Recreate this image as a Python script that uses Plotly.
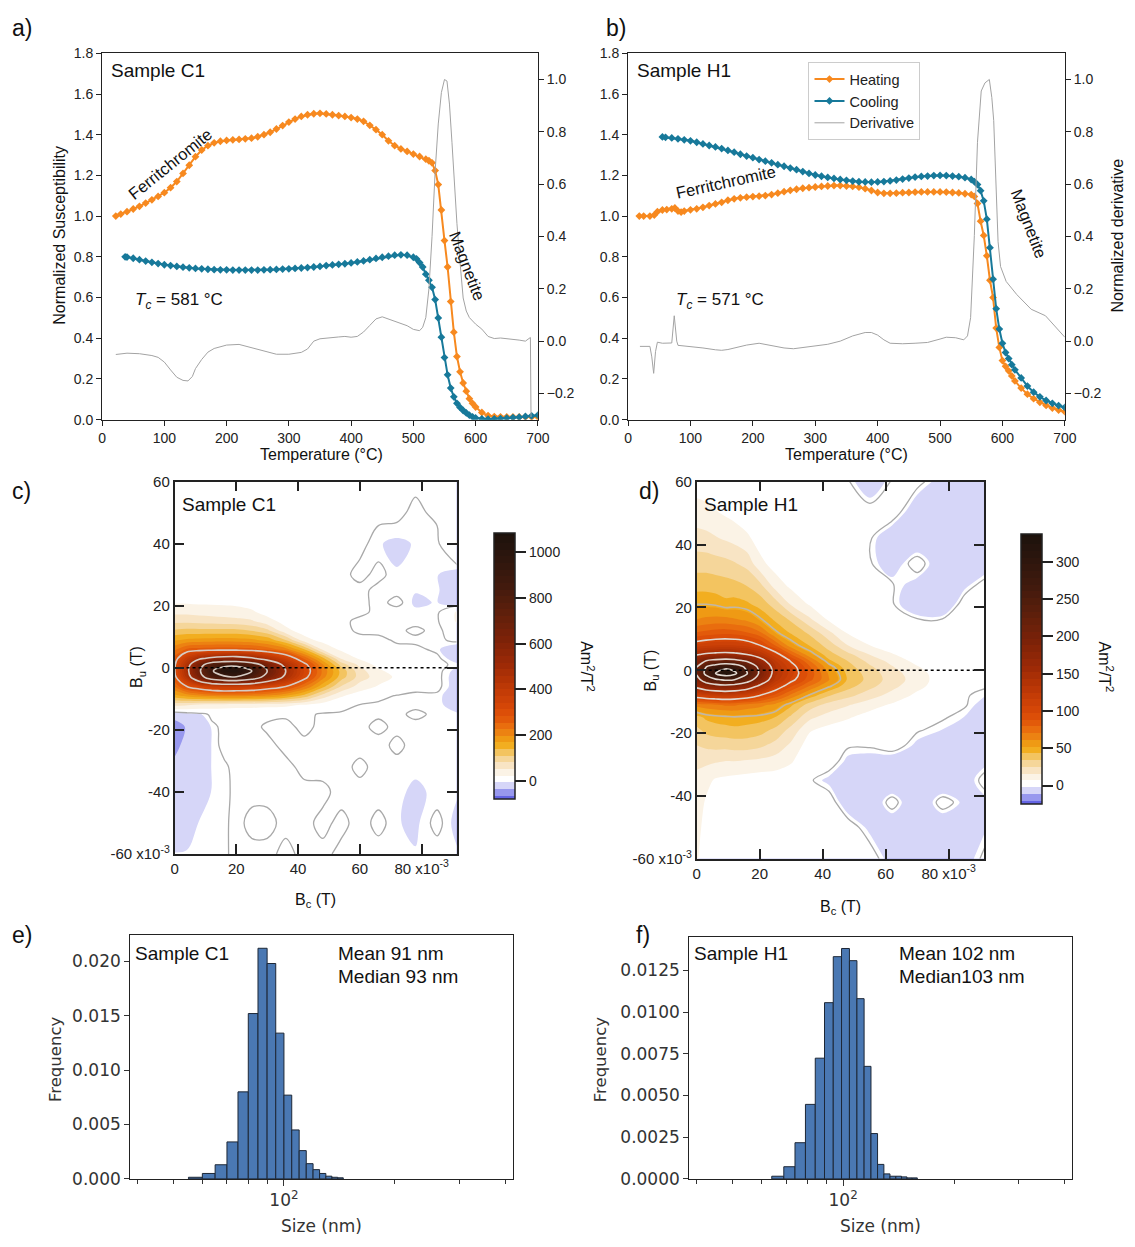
import numpy as np
import plotly.graph_objects as go

W, H = 1135, 1247

# ---------------- susceptibility vs temperature: sample C1 ----------------
c1_heat_T = [22, 30, 40, 50, 60, 70, 80, 90, 100, 110, 120, 130, 140, 150, 160, 170, 180, 190,
             200, 210, 220, 230, 240, 250, 260, 270, 280, 290, 300, 310, 320, 330, 340, 350, 360,
             370, 380, 390, 400, 410, 420, 430, 440, 450, 460, 470, 480, 490, 500, 510, 520, 525,
             530, 535, 540, 545, 550, 555, 560, 565, 570, 575, 580, 585, 590, 595, 600, 610, 620,
             630, 640, 650, 660, 670, 680, 690, 700]
c1_heat_k = [1.000, 1.010, 1.022, 1.035, 1.048, 1.064, 1.080, 1.097, 1.115, 1.140, 1.170, 1.210, 1.250, 1.292, 1.325, 1.346, 1.360, 1.368,
             1.372, 1.375, 1.377, 1.380, 1.383, 1.390, 1.400, 1.412, 1.428, 1.445, 1.462, 1.477, 1.490, 1.498, 1.503, 1.505, 1.502,
             1.498, 1.494, 1.490, 1.484, 1.477, 1.466, 1.446, 1.425, 1.400, 1.370, 1.346, 1.330, 1.318, 1.305, 1.293, 1.280, 1.272,
             1.262, 1.224, 1.155, 1.030, 0.880, 0.750, 0.580, 0.430, 0.310, 0.235, 0.180, 0.140, 0.103, 0.080, 0.062, 0.035, 0.020,
             0.015, 0.014, 0.013, 0.013, 0.013, 0.013, 0.013, 0.013]

c1_cool_T = [37, 40, 50, 60, 70, 80, 90, 100, 110, 120, 130, 140, 150, 160, 170, 180, 190, 200,
             210, 220, 230, 240, 250, 260, 270, 280, 290, 300, 310, 320, 330, 340, 350, 360, 370,
             380, 390, 400, 410, 420, 430, 440, 450, 460, 470, 480, 490, 500, 505, 510, 515, 520,
             525, 530, 535, 540, 545, 550, 555, 560, 565, 570, 575, 580, 585, 590, 595, 600, 610,
             620, 630, 640, 650, 660, 670, 680, 690, 700]
c1_cool_k = [0.800, 0.799, 0.793, 0.786, 0.779, 0.773, 0.767, 0.761, 0.757, 0.753, 0.749, 0.746, 0.743, 0.741, 0.739, 0.737, 0.736, 0.736,
             0.735, 0.735, 0.735, 0.735, 0.735, 0.736, 0.737, 0.738, 0.740, 0.741, 0.743, 0.745, 0.747, 0.750, 0.753, 0.757, 0.760,
             0.763, 0.766, 0.770, 0.775, 0.780, 0.786, 0.792, 0.798, 0.803, 0.808, 0.810, 0.808, 0.798, 0.790, 0.772, 0.750, 0.715,
             0.685, 0.650, 0.590, 0.500, 0.405, 0.305, 0.220, 0.155, 0.112, 0.080, 0.060, 0.045, 0.033, 0.022, 0.014, 0.008, 0.004,
             0.003, 0.004, 0.005, 0.007, 0.010, 0.012, 0.016, 0.019, 0.022]

c1_deriv_T = [22, 40, 60, 80, 90, 100, 110, 120, 130, 138, 145, 150, 160, 170, 180, 190, 200, 220, 240, 260,
              280, 300, 320, 330, 340, 350, 360, 370, 380, 390, 400, 410, 420, 430, 440, 450, 460, 470, 480, 490,
              500, 510, 515, 520, 525, 530, 535, 540, 545, 550, 554, 558, 562, 566, 570, 575, 580, 585, 590, 600,
              610, 620, 630, 640, 650, 660, 670, 680, 685, 688, 689]
c1_deriv = [-0.051, -0.046, -0.048, -0.055, -0.062, -0.080, -0.110, -0.138, -0.150, -0.152,
            -0.135, -0.105, -0.070, -0.042, -0.028, -0.020, -0.015, -0.0125, -0.025, -0.040,
            -0.050, -0.050, -0.043, -0.030, 0.000, 0.009, 0.012, 0.015, 0.016, 0.018,
            0.015, 0.018, 0.035, 0.060, 0.085, 0.093, 0.085, 0.075, 0.068, 0.059,
            0.045, 0.040, 0.053, 0.090, 0.200, 0.400, 0.650, 0.830, 0.950, 1.000,
            0.994, 0.906, 0.760, 0.600, 0.450, 0.300, 0.165, 0.115, 0.090, 0.065,
            0.046, 0.018, 0.010, 0.012, 0.010, 0.008, 0.004, 0.000, 0.010, 0.014, -0.290]

# ---------------- susceptibility vs temperature: sample H1 ----------------
h1_heat_T = [18, 25, 35, 42, 47, 55, 62, 70, 75, 80, 85, 90,
             100, 110, 120, 130, 140, 150, 160, 170, 180, 190, 200, 210, 220, 230, 240, 250, 260, 270,
             280, 290, 300, 310, 320, 330, 340, 350, 360, 370, 380, 390, 400, 410, 420, 430, 440, 450,
             460, 470, 480, 490, 500, 510, 520, 530, 540, 550,
             555, 560, 565, 570, 575, 580, 585, 590, 595, 600, 605, 610, 615, 620,
             630, 640, 650, 660, 670, 680, 690, 700]
h1_heat_k = [1.000, 1.000, 1.000, 1.005, 1.022, 1.030, 1.032, 1.036, 1.040, 1.025, 1.020, 1.025,
             1.031, 1.036, 1.043, 1.052, 1.060, 1.068, 1.078, 1.085, 1.090, 1.093, 1.096, 1.098, 1.101, 1.106, 1.113, 1.120, 1.127, 1.132,
             1.137, 1.140, 1.143, 1.146, 1.148, 1.150, 1.150, 1.148, 1.146, 1.142, 1.135, 1.126, 1.116, 1.112, 1.112, 1.113, 1.115, 1.116,
             1.118, 1.119, 1.119, 1.119, 1.119, 1.118, 1.116, 1.114, 1.110, 1.106,
             1.097, 1.062, 0.975, 0.905, 0.805, 0.685, 0.600, 0.450, 0.355, 0.290, 0.262, 0.240, 0.215, 0.190,
             0.155, 0.125, 0.103, 0.085, 0.070, 0.057, 0.047, 0.039]

h1_cool_T = [55, 60, 70, 80, 90, 100, 110, 120, 130, 140, 150, 160, 170, 180, 190, 200, 210, 220, 230, 240,
             250, 260, 270, 280, 290, 300, 310, 320, 330, 340, 350, 360, 370, 380, 390, 400, 410, 420, 430,
             440, 450, 460, 470, 480, 490, 500, 510, 520, 530, 540, 550,
             555, 560, 565, 570, 575, 580, 585, 590, 595, 600, 605, 610, 615, 620,
             630, 640, 650, 660, 670, 680, 690, 700]
h1_cool_k = [1.389, 1.387, 1.384, 1.380, 1.375, 1.370, 1.363, 1.355, 1.347, 1.340, 1.332, 1.323, 1.314, 1.304, 1.295, 1.287, 1.278, 1.270, 1.262, 1.253,
             1.245, 1.236, 1.228, 1.219, 1.210, 1.202, 1.196, 1.190, 1.185, 1.180, 1.176, 1.172, 1.169, 1.168, 1.167, 1.168, 1.170, 1.173, 1.177,
             1.182, 1.187, 1.192, 1.195, 1.197, 1.199, 1.200, 1.199, 1.197, 1.194, 1.189, 1.180,
             1.170, 1.155, 1.125, 1.075, 0.985, 0.845, 0.690, 0.545, 0.445, 0.375, 0.330, 0.300, 0.270, 0.245,
             0.205, 0.165, 0.135, 0.112, 0.094, 0.080, 0.069, 0.060]

h1_deriv_T = [19, 35, 38, 41, 44, 47, 55, 65, 70, 74, 78, 80, 90, 100, 120, 140, 150, 160, 175, 190,
              210, 230, 250, 265, 280, 300, 320, 340, 360, 380, 390, 400, 410, 420, 440, 460, 480, 500, 510, 525,
              538, 544, 549, 555, 560, 566, 572, 579, 583, 586, 589, 593, 597, 606, 623, 646, 669, 686, 700]
h1_deriv = [-0.020, -0.020, -0.060, -0.123, -0.040, -0.004, -0.008, -0.008, -0.007, 0.097,
            0.000, -0.016, -0.018, -0.020, -0.026, -0.033, -0.035, -0.032, -0.023, -0.015,
            -0.008, -0.018, -0.026, -0.029, -0.025, -0.019, -0.012, 0.000, 0.020, 0.033,
            0.033, 0.023, 0.005, -0.008, -0.010, -0.008, -0.005, 0.008, 0.015, 0.013,
            0.005, 0.020, 0.090, 0.404, 0.760, 0.956, 0.987, 1.000, 0.931, 0.843,
            0.655, 0.380, 0.285, 0.228, 0.178, 0.122, 0.097, 0.053, 0.015]

# ---------------- FORC distributions (Am^2/T^2), columns over Bc, rows over Bu (mT) ----------------
c1_bc = [0, 4, 8, 12, 16, 20, 25, 30, 36, 42, 48, 54, 60, 66, 72, 78, 85, 92]
c1_bu = [-60, -50, -40, -32, -25, -19, -15, -12, -9, -6, -3, -1, 1, 3, 6, 9, 12, 15, 18, 21, 25, 30, 40, 50, 60]
c1_forc_cols = [
    [-4, -15, -20, -28, -40, -50, -20, 60, 160, 230, 280, 295, 290, 270, 220, 165, 115, 75, 45, 22, 3, 2, 2, 2, 2],
    [-4, -8, -15, -22, -26, -30, -12, 55, 180, 300, 440, 470, 450, 390, 260, 175, 120, 75, 45, 22, 3, 2, 2, 2, 2],
    [-3, -4, -14, -18, -22, -22, -6, 45, 195, 340, 630, 680, 640, 480, 268, 178, 120, 72, 42, 20, 3, 2, 2, 2, 2],
    [-2, -3, -4, -4, -4, -3, 2, 40, 205, 370, 800, 880, 790, 530, 270, 180, 120, 70, 40, 20, 4, 2, 2, 2, 2],
    [-2, -2, -3, -2, 2, 2, 3, 38, 210, 385, 870, 1020, 840, 555, 272, 182, 120, 68, 36, 20, 4, 2, 2, 2, 2],
    [2, 2, 2, 2, 2, 2, 3, 35, 210, 380, 890, 1040, 850, 560, 270, 180, 120, 65, 32, 20, 5, 2, 2, 2, 2],
    [2, -3, 2, 2, 2, 2, 2, 35, 205, 370, 800, 900, 780, 520, 265, 175, 110, 58, 28, 15, 2, 2, 2, 2, 2],
    [2, -3, 2, 2, 2, -2, 2, 32, 195, 340, 640, 700, 640, 450, 245, 160, 90, 35, 15, 5, 2, 2, 2, 2, 2],
    [-3, 2, 2, 2, -3, -3, 1, 30, 170, 300, 470, 500, 460, 360, 210, 110, 32, 15, 5, 2, 2, 2, 2, 2, 2],
    [2, 2, 2, -3, -3, 2, 2, 22, 130, 230, 320, 340, 320, 250, 140, 35, 12, 2, 2, 2, 2, 2, 2, 2, 2],
    [2, -3, 2, -4, -3, -3, -2, 10, 70, 150, 210, 220, 200, 150, 45, 15, 2, 2, 2, 2, 2, 2, 2, 2, 2],
    [-3, 2, -4, -4, -4, -3, -2, 3, 28, 80, 125, 130, 100, 50, 18, 3, 2, 2, 2, 2, 2, 2, 2, 2, 2],
    [-4, -4, -4, 2, -4, -3, -2, -1, 10, 40, 70, 65, 45, 20, 4, 2, -2, -3, 2, 2, 2, -3, 2, 2, 2],
    [-4, 2, -4, -4, -4, 2, -2, -2, 2, 22, 38, 30, 15, 3, 2, 2, -3, -4, -3, -3, -3, 2, -4, 2, 2],
    [-4, -4, -4, -4, 2, -3, -3, -2, -1, 8, 20, 12, 3, 2, 2, -2, -3, -3, -4, 2, -3, -4, -6, 2, 2],
    [-4, -6, -5, -4, -4, -4, 2, -3, -2, 2, 3, 2, 2, 2, 2, -3, 2, -4, -3, -6, -4, -4, -4, -3, 2],
    [-4, 2, -4, -4, -4, -4, -3, -3, -2, 2, 2, 2, 2, 2, -3, -3, -4, -3, -4, -4, -3, -4, -4, 2, 2],
    [-4, -8, -4, -4, -4, -4, -4, -8, -12, -10, -10, -8, -3, -12, -14, 3, 10, 30, 30, -14, -16, -12, 30, 2, 2],
]

h1_bc = [0, 3, 6, 9, 12, 16, 20, 25, 30, 36, 42, 48, 55, 62, 70, 78, 85, 92]
h1_bu = [-60, -50, -42, -35, -29, -24, -19, -15, -11, -8, -5, -3, -1, 1, 3, 5, 8, 12, 16, 21, 27, 34, 42, 50, 60]
h1_forc_cols = [
    [8, 10, 12, 14, 18, 25, 32, 40, 65, 110, 160, 185, 205, 200, 180, 148, 108, 80, 62, 50, 40, 30, 20, 11, 3],
    [3, 4, 6, 10, 18, 27, 37, 45, 68, 115, 175, 225, 262, 250, 200, 155, 112, 82, 64, 50, 40, 30, 19, 10, 2],
    [1, 2, 3, 6, 17, 28, 39, 47, 70, 118, 185, 245, 300, 275, 210, 158, 114, 84, 65, 49, 39, 29, 17, 8, 1],
    [0, 1, 2, 5, 16, 28, 40, 48, 72, 120, 190, 255, 325, 290, 215, 160, 115, 85, 65, 46, 38, 28, 15, 6, 0],
    [0, 0, 1, 4, 16, 29, 41, 49, 72, 118, 185, 250, 310, 280, 212, 158, 114, 84, 63, 47, 37, 26, 13, 4, 0],
    [0, 0, 0, 3, 15, 29, 40, 48, 68, 112, 170, 220, 252, 240, 195, 150, 110, 80, 60, 45, 34, 22, 9, 1, 0],
    [0, 0, 0, 2, 14, 27, 38, 47, 65, 100, 145, 178, 195, 190, 165, 135, 100, 72, 52, 40, 28, 10, 3, 0, 0],
    [0, 0, 0, 2, 12, 22, 32, 43, 58, 85, 112, 130, 137, 135, 125, 108, 78, 52, 42, 30, 12, 3, 0, 0, 0],
    [0, 0, 0, 1, 8, 14, 22, 32, 45, 68, 90, 105, 110, 108, 98, 80, 55, 42, 33, 15, 5, 1, 0, 0, 0],
    [0, 0, 0, 0, 0, 2, 8, 18, 30, 48, 70, 82, 85, 80, 70, 55, 42, 32, 18, 6, 1, 0, 0, 0, 0],
    [0, 0, 2, -3, 2, 0, 4, 12, 22, 35, 52, 62, 60, 55, 45, 38, 30, 18, 6, 1, 0, 0, 0, 0, 0],
    [2, 2, -5, -7, -3, 0, 2, 8, 17, 28, 38, 42, 41, 38, 34, 28, 16, 6, 1, 0, 0, 0, 0, 0, 0],
    [2, -3, -7, -8, -4, 0, 0, 3, 11, 20, 28, 31, 30, 27, 22, 16, 7, 1, 0, 0, 0, 0, 0, 2, -6],
    [-4, -7, 2, -8, -5, 2, 0, 0, 6, 13, 19, 21, 20, 17, 13, 8, 2, 0, 0, 0, 0, -5, -6, 2, 0],
    [-7, -8, -8, -3, -6, -3, 0, 0, 1, 5, 10, 12, 11, 8, 4, 1, 0, 0, 0, -6, -4, 2, -7, -6, 1],
    [-8, -7, 2, -8, -7, -5, -2, 0, 0, 0, 2, 2, 2, 1, 0, 0, 0, 2, 0, -7, -5, -6, -8, -5, -4],
    [-4, -6, -3, -5, -6, -6, -4, -2, 0, 0, 1, 1, 1, 0, 0, 0, 0, 0, 0, 2, -3, -6, -8, -7, -6],
    [1, -2, -3, 2, -3, -4, -5, -4, -4, -2, 0, 0, 0, 0, 0, 0, 0, 0, 0, 2, 2, -5, -7, -8, -7],
]

# ---------------- particle size histograms (nm, density) ----------------
c1_size_edges = [55, 60, 65, 70, 75, 80, 85, 90, 95, 100, 105, 110, 115, 120, 125, 130, 135, 140, 145]
c1_size_freq = [0.00015, 0.0005, 0.0013, 0.0034, 0.0080, 0.0152, 0.0212, 0.0198, 0.0134, 0.0077,
                0.0045, 0.0026, 0.0014, 0.00085, 0.0005, 0.00025, 0.00015, 0.0001]
h1_size_edges = [64, 69, 74, 79, 84, 89, 94, 99, 104, 109, 114, 119, 124, 129, 134, 139, 144, 149, 154, 159]
h1_size_freq = [0.00016, 0.00073, 0.00217, 0.00447, 0.00724, 0.01057, 0.01333, 0.01382, 0.01309, 0.01081,
                0.00675, 0.00272, 0.00087, 0.0003, 0.00016, 0.00016, 0.00012, 0.00006, 0.00006]

# ---------------- styling ----------------
ORANGE = '#f7891f'
TEAL = '#17799a'
DERIV_GREY = '#a3a3a3'
BAR_BLUE = '#4a78b3'
INK = '#222222'
ARIAL = 'Liberation Sans, Arial, sans-serif'
DEJAVU = 'DejaVu Sans, sans-serif'

FORC_SCALE = [
    [0.0, '#6464e4'], [0.025, '#9898ee'], [0.05, '#d6d6f8'], [0.062, '#f4f4fd'],
    [0.075, '#ffffff'], [0.088, '#ffffff'], [0.1, '#fbf3e6'], [0.125, '#f8e4c4'],
    [0.15, '#f5d69a'], [0.175, '#f3c460'], [0.2, '#f2ae20'], [0.225, '#ef9a14'],
    [0.25, '#ec8212'], [0.275, '#e96d0e'], [0.3, '#e25a0a'], [0.325, '#dc4e08'],
    [0.35, '#d44607'], [0.4, '#c43c06'], [0.45, '#b23305'], [0.5, '#9e2a06'],
    [0.6, '#7c2208'], [0.7, '#5e1f0b'], [0.8, '#421a0d'], [0.9, '#2e160d'], [1.0, '#1c120c'],
]


def px(x):
    return x / W


def py(y):
    return 1 - y / H


fig = go.Figure()


def add_thermo(T, k, color, name, xa, ya, show):
    fig.add_trace(go.Scatter(
        x=T, y=k, name=name, mode='lines+markers', xaxis=xa, yaxis=ya,
        line=dict(color=color, width=2),
        marker=dict(symbol='diamond', size=6, color=color, line=dict(width=0)),
        showlegend=show, hoverinfo='skip'))


def add_deriv(T, d, xa, ya, show):
    fig.add_trace(go.Scatter(
        x=T, y=d, name='Derivative', mode='lines', xaxis=xa, yaxis=ya,
        line=dict(color=DERIV_GREY, width=1), showlegend=show, hoverinfo='skip'))


add_thermo(c1_heat_T, c1_heat_k, ORANGE, 'Heating', 'x', 'y', False)
add_thermo(c1_cool_T, c1_cool_k, TEAL, 'Cooling', 'x', 'y', False)
add_deriv(c1_deriv_T, c1_deriv, 'x', 'y2', False)

add_thermo(h1_heat_T, h1_heat_k, ORANGE, 'Heating', 'x2', 'y3', True)
add_thermo(h1_cool_T, h1_cool_k, TEAL, 'Cooling', 'x2', 'y3', True)
add_deriv(h1_deriv_T, h1_deriv, 'x2', 'y4', True)


def add_forc(bc, bu, cols, xa, ya, start, size, cbar, light_levels):
    z = np.array(cols, dtype=float).T
    nlev = 40
    fig.add_trace(go.Contour(
        x=bc, y=bu, z=z, xaxis=xa, yaxis=ya, colorscale=FORC_SCALE, autocontour=False,
        contours=dict(coloring='fill', showlines=False, start=start,
                      end=start + (nlev - 1) * size, size=size),
        line=dict(width=0, smoothing=1.0), colorbar=cbar, hoverinfo='skip', showlegend=False))
    # outline of the zero level
    fig.add_trace(go.Contour(
        x=bc, y=bu, z=z, xaxis=xa, yaxis=ya, showscale=False, autocontour=False,
        contours=dict(coloring='none', start=-0.5, end=0.4, size=1),
        line=dict(color='#a9a9a9', width=1.3, smoothing=1.0), hoverinfo='skip', showlegend=False))
    for lo, hi, step, color in light_levels:
        fig.add_trace(go.Contour(
            x=bc, y=bu, z=z, xaxis=xa, yaxis=ya, showscale=False, autocontour=False,
            contours=dict(coloring='none', start=lo, end=hi, size=step),
            line=dict(color=color, width=1.6, smoothing=1.0), hoverinfo='skip', showlegend=False))
    fig.add_trace(go.Scatter(
        x=[bc[0], bc[-1]], y=[0, 0], mode='lines', xaxis=xa, yaxis=ya,
        line=dict(color='black', width=1.5, dash='dot'), hoverinfo='skip', showlegend=False))


def colorbar(x_left, y_mid, length, ticks):
    return dict(x=px(x_left), xanchor='left', xpad=0, y=py(y_mid), yanchor='middle', ypad=0,
                len=length, lenmode='pixels', thickness=21, thicknessmode='pixels',
                outlinewidth=1.5, outlinecolor=INK, ticks='outside', ticklen=11, tickwidth=1.5,
                tickcolor=INK, tickvals=ticks, tickprefix='\u2002',
                tickfont=dict(family=ARIAL, size=14, color=INK))


add_forc(c1_bc, c1_bu, c1_forc_cols, 'x3', 'y5', -62.5, 29.0,
         colorbar(497, 667, 266, [0, 200, 400, 600, 800, 1000]),
         [(300, 900, 200, '#d6ccc4')])
add_forc(h1_bc, h1_bu, h1_forc_cols, 'x4', 'y6', -20.0, 9.05,
         colorbar(1032, 670, 270, [0, 50, 100, 150, 200, 250, 300]),
         [(50, 50.5, 10, '#c2b6a6'), (100, 300, 50, '#e0d8d0')])


def add_hist(edges, freq, xa, ya):
    le = np.log10(edges)
    centers = (le[:-1] + le[1:]) / 2
    widths = le[1:] - le[:-1]
    fig.add_trace(go.Bar(
        x=centers, y=freq, width=widths, xaxis=xa, yaxis=ya,
        marker=dict(color=BAR_BLUE, line=dict(color='#1d2736', width=1)),
        hoverinfo='skip', showlegend=False))


add_hist(c1_size_edges, c1_size_freq, 'x5', 'y7')
add_hist(h1_size_edges, h1_size_freq, 'x6', 'y8')

# ---------------- axes ----------------
tm_font = dict(family=ARIAL, size=14, color=INK)


def tm_x(domain, anchor):
    return dict(domain=domain, anchor=anchor, range=[0, 700], tickvals=list(range(0, 701, 100)),
                ticks='outside', ticklen=5, tickwidth=1.2, tickcolor=INK, showline=True,
                linecolor=INK, linewidth=1.2, mirror=True, showgrid=False, zeroline=False,
                tickfont=tm_font)


def tm_yl(domain, anchor):
    return dict(domain=domain, anchor=anchor, range=[0, 1.8],
                tickvals=[0, 0.2, 0.4, 0.6, 0.8, 1.0, 1.2, 1.4, 1.6, 1.8], tickformat='.1f',
                ticks='outside', ticklen=5, tickwidth=1.2, tickcolor=INK, showline=True,
                linecolor=INK, linewidth=1.2, showgrid=False, zeroline=False, tickfont=tm_font)


def tm_yr(over, anchor):
    return dict(overlaying=over, anchor=anchor, side='right', range=[-0.3, 1.1],
                tickvals=[-0.2, 0, 0.2, 0.4, 0.6, 0.8, 1.0], tickformat='.1f',
                ticks='outside', ticklen=5, tickwidth=1.2, tickcolor=INK, showline=True,
                linecolor=INK, linewidth=1.2, showgrid=False, zeroline=False, tickfont=tm_font)


forc_font = dict(family=ARIAL, size=15, color=INK)


def forc_x(domain, anchor, rng):
    return dict(domain=domain, anchor=anchor, range=rng, tickvals=[0, 20, 40, 60, 80],
                ticktext=['0', '20', '40', '60', '80 x10<sup>-3</sup>'],
                ticks='inside', ticklen=10, tickwidth=1.5, tickcolor=INK, showline=True,
                linecolor=INK, linewidth=1.5, mirror='allticks', showgrid=False, zeroline=False,
                tickfont=forc_font)


def forc_y(domain, anchor):
    return dict(domain=domain, anchor=anchor, range=[-60, 60],
                tickvals=[-60, -40, -20, 0, 20, 40, 60],
                ticktext=['-60 x10<sup>-3</sup>', '-40', '-20', '0', '20', '40', '60'],
                ticks='inside', ticklen=10, tickwidth=1.5, tickcolor=INK, showline=True,
                linecolor=INK, linewidth=1.5, mirror='allticks', showgrid=False, zeroline=False,
                tickfont=forc_font)


hist_font = dict(family=DEJAVU, size=17, color='#333333')
minor_logs = list(np.log10([40, 50, 60, 70, 80, 90, 200, 300, 400]))


def hist_x(domain, anchor):
    return dict(domain=domain, anchor=anchor, range=[1.582, 2.622], tickvals=[2],
                ticktext=['10<sup>2</sup>'], ticks='outside', ticklen=6, tickwidth=1,
                tickcolor='#333333', minor=dict(tickmode='array', tickvals=minor_logs, ticks='outside',
                                                ticklen=4, tickwidth=1, tickcolor='#333333'),
                showline=True, linecolor='#222222', linewidth=1, mirror=True, showgrid=False,
                zeroline=False, tickfont=hist_font)


def hist_y(domain, anchor, top, ticks, fmt):
    return dict(domain=domain, anchor=anchor, range=[0, top], tickvals=ticks, tickformat=fmt,
                ticks='outside', ticklen=5, tickwidth=1, tickcolor='#333333', showline=True,
                linecolor='#222222', linewidth=1, mirror=True, showgrid=False, zeroline=False,
                tickfont=hist_font)


fig.update_layout(
    width=W, height=H, margin=dict(l=0, r=0, t=0, b=0), autosize=False,
    paper_bgcolor='white', plot_bgcolor='white',
    xaxis=tm_x([px(99.5), px(541.5)], 'y'),
    yaxis=tm_yl([py(417), py(45)], 'x'),
    yaxis2=tm_yr('y', 'x'),
    xaxis2=tm_x([px(633), px(1076)], 'y3'),
    yaxis3=tm_yl([py(417), py(45)], 'x2'),
    yaxis4=tm_yr('y3', 'x2'),
    xaxis3=forc_x([px(173), px(459)], 'y5', [0, 91.3]),
    yaxis5=forc_y([py(858), py(480)], 'x3'),
    xaxis4=forc_x([px(702.6), px(994)], 'y6', [0, 91.2]),
    yaxis6=forc_y([py(863), py(480)], 'x4'),
    xaxis5=hist_x([px(128), px(516)], 'y7'),
    yaxis7=hist_y([py(1188), py(940)], 'x5', 0.02245, [0, 0.005, 0.010, 0.015, 0.020], '.3f'),
    xaxis6=hist_x([px(695), px(1083.5)], 'y8'),
    yaxis8=hist_y([py(1188), py(942)], 'x6', 0.01453, [0, 0.0025, 0.0050, 0.0075, 0.0100, 0.0125], '.4f'),
    legend=dict(x=px(816), y=py(54), xanchor='left', yanchor='top', bgcolor='white',
                bordercolor='#cccccc', borderwidth=1, font=dict(family=ARIAL, size=14.5, color=INK),
                itemwidth=30, tracegroupgap=0),
    showlegend=True,
)


def note(text, x, y, size=16, xanchor='left', yanchor='middle', angle=0, family=ARIAL, color='#111111'):
    fig.add_annotation(text=text, x=px(x), y=py(y), xref='paper', yref='paper',
                       xanchor=xanchor, yanchor=yanchor, showarrow=False, textangle=angle,
                       font=dict(family=family, size=size, color=color))


# panel letters
for letter, x, y in [('a)', 6, 19), ('b)', 609, 19), ('c)', 6, 489), ('d)', 642, 489),
                     ('e)', 6, 940), ('f)', 639, 940)]:
    note(letter, x, y, size=23)

# thermomagnetic panels
note('Sample C1', 106, 62, size=19)
note('Sample H1', 640, 62, size=19)
note('Ferritchromite', 168, 157, size=16.5, xanchor='center', angle=-39)
note('Magnetite', 470, 261, size=16.5, xanchor='center', angle=69)
note('Ferritchromite', 732, 176, size=16.5, xanchor='center', angle=-12.5)
note('Magnetite', 1040, 218, size=16.5, xanchor='center', angle=69)
note('<i>T</i><sub><i>c</i></sub> = 581 °C', 131, 297, size=17)
note('<i>T</i><sub><i>c</i></sub> = 571 °C', 680, 297, size=17)
note('Normalized Susceptibility', 56, 230, size=16, xanchor='center', angle=-90)
note('Normalized derivative', 1129, 230, size=16, xanchor='center', angle=-90)
note('Temperature (°C)', 322, 452, size=16, xanchor='center')
note('Temperature (°C)', 855, 452, size=16, xanchor='center')

# FORC panels
note('Sample C1', 179, 503, size=19)
note('Sample H1', 708, 503, size=19)
note('B<sub>u</sub> (T)', 136, 668, size=16, xanchor='center', angle=-90)
note('B<sub>u</sub> (T)', 657, 672, size=16, xanchor='center', angle=-90)
note('B<sub>c</sub> (T)', 316, 905, size=16, xanchor='center')
note('B<sub>c</sub> (T)', 848, 912, size=16, xanchor='center')
note('Am<sup>2</sup>/T<sup>2</sup>', 592, 668, size=16, xanchor='center', angle=90)
note('Am<sup>2</sup>/T<sup>2</sup>', 1118, 668, size=16, xanchor='center', angle=90)

# size distributions
note('Sample C1', 131, 959, size=19)
note('Mean 91 nm', 337, 959, size=19)
note('Median 93 nm', 337, 982, size=19)
note('Sample H1', 698, 959, size=19)
note('Mean 102 nm', 906, 959, size=19)
note('Median103 nm', 906, 982, size=19)
note('Frequency', 52, 1067, size=16.5, xanchor='center', angle=-90, family=DEJAVU, color='#333333')
note('Frequency', 605, 1067, size=16.5, xanchor='center', angle=-90, family=DEJAVU, color='#333333')
note('Size (nm)', 322, 1236, size=17, xanchor='center', family=DEJAVU, color='#333333')
note('Size (nm)', 889, 1236, size=17, xanchor='center', family=DEJAVU, color='#333333')

fig.write_html('out.html', config={'displayModeBar': False})
